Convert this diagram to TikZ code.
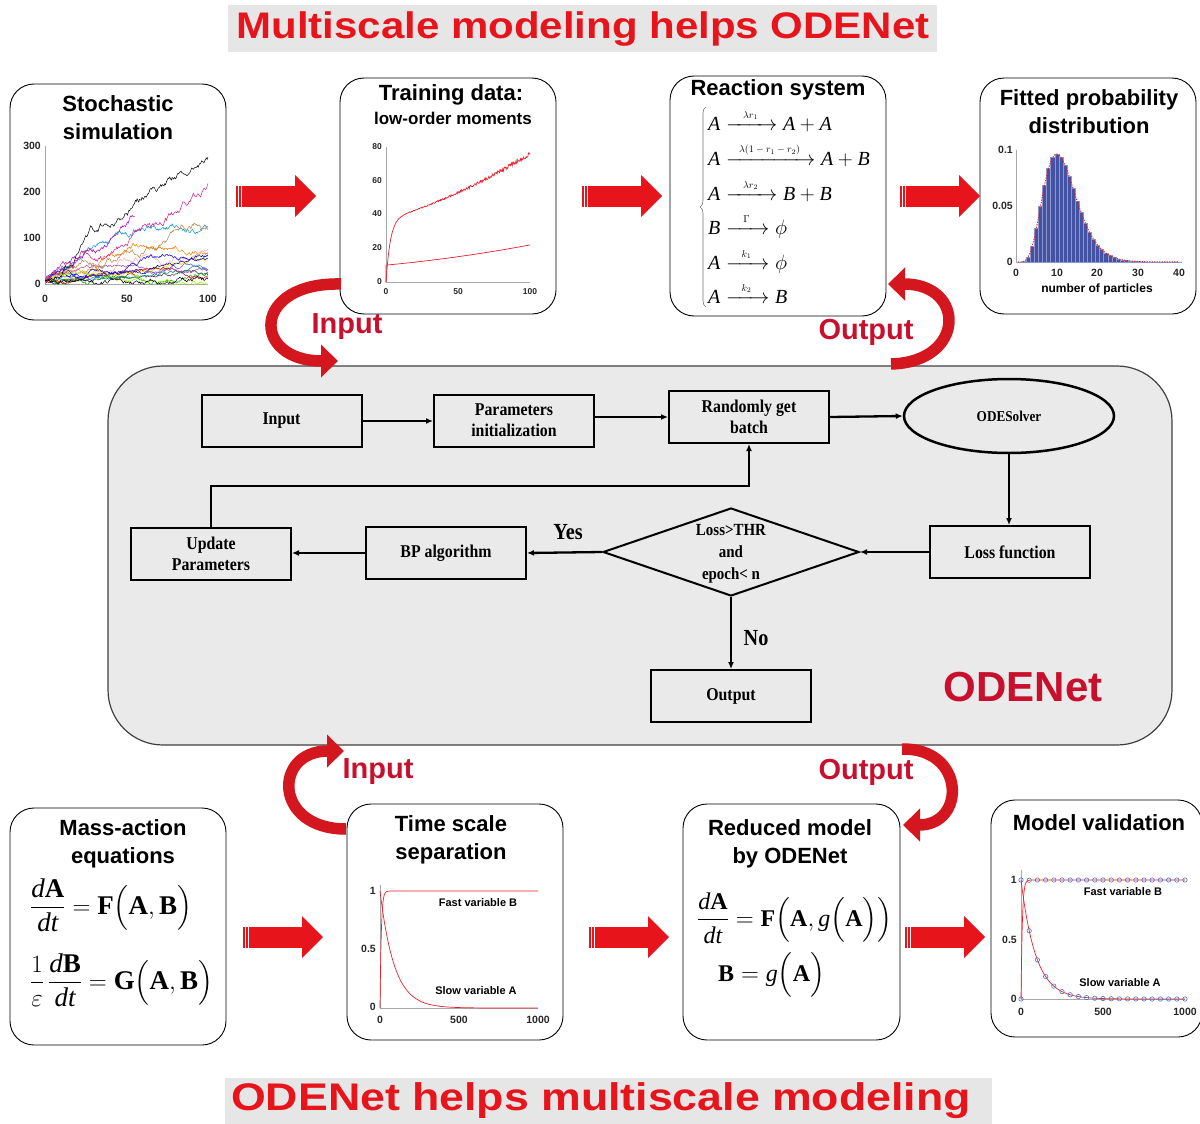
\documentclass[tikz,border=0pt]{standalone}
\usepackage{fontspec}
\usepackage{amsmath}
\usepackage{graphicx}
\setmainfont{Liberation Serif}
\newfontfamily\sansf{Liberation Sans}
\newfontfamily\flowf[FakeStretch=0.88]{Liberation Serif}
\usetikzlibrary{arrows.meta,shapes.geometric,calc,decorations.pathreplacing}
\definecolor{tred}{HTML}{E8141C}
\definecolor{titlebg}{HTML}{E6E6E6}
\definecolor{crim}{HTML}{C8102E}
\definecolor{panelgray}{HTML}{EAEAEA}
\definecolor{curvred}{HTML}{D4161F}
\definecolor{barblue}{HTML}{4352A3}
\definecolor{baredge}{HTML}{8E97CC}
\definecolor{mkblue}{HTML}{4F6FC8}
\definecolor{axgray}{HTML}{A8A8A8}
\definecolor{plotred}{HTML}{E8202A}
\newcommand\rwalk[5]{%
  \pgfmathsetseed{#1}%
  \xdef\rwy{8}%
  \xdef\rwp{(0,8)}%
  \foreach \i in {1,...,#5}{%
    \pgfmathparse{max(0,\rwy+#3+#4*rand)}%
    \xdef\rwy{\pgfmathresult}%
    \pgfmathparse{\i/2}%
    \xdef\rwx{\pgfmathresult}%
    \xdef\rwp{\rwp -- (\rwx,\rwy)}%
  }%
  \draw[#2, line width=0.5pt] \rwp;%
}
\newcommand\rxn[3]{\textit{#1}\xrightarrow{\makebox[#2]{\fontsize{10}{11}\selectfont$#3$}}}
\tikzset{
  panel/.style={draw=black, line width=0.9pt, rounded corners=24pt, inner sep=0pt},
  ptitle/.style={font=\sansf\bfseries\fontsize{22}{28}\selectfont, align=center, inner sep=0pt},
  tick/.style={font=\sansf\bfseries\fontsize{10.5}{12}\selectfont, inner sep=0pt, text=black!85},
  plotlab/.style={font=\sansf\bfseries\fontsize{11}{13}\selectfont, inner sep=0pt},
  flowbox/.style={draw=black, line width=2pt, minimum width=160pt, minimum height=52pt, inner sep=2pt, align=center, font=\flowf\bfseries\fontsize{18}{21}\selectfont},
  flowarr/.style={line width=2.3pt, -{Latex[length=7pt,width=6pt]}},
  curvarr/.style={draw=curvred, line width=11.5pt, -{Triangle[length=17pt,width=32pt]}},
  redlab/.style={font=\sansf\bfseries\fontsize{29}{32}\selectfont, text=crim, inner sep=0pt},
  axis/.style={draw=axgray, line width=0.6pt},
  eqn/.style={inner sep=0pt, anchor=west},
  rx/.style={inner sep=0pt, anchor=base west, font=\fontsize{20}{22}\selectfont},
  bigarrow/.pic={
    \fill[tred] (0,-10.5) rectangle (2,10.5);
    \fill[tred] (3.3,-10.5) rectangle (4.9,10.5);
    \fill[tred] (6.2,-10.5) rectangle (60,10.5);
    \fill[tred] (59,-21) -- (80,0) -- (59,21) -- cycle;
  }
}
\begin{document}
\begin{tikzpicture}[x=1pt,y=-1pt]
\useasboundingbox (0,0) rectangle (1200,1124);
% ---------- titles
\fill[titlebg] (228,5) rectangle (937,52);
\node[font=\sansf\bfseries\fontsize{37}{40}\selectfont, text=tred, inner sep=0pt] (ttop) at (583,29) {\scalebox{1.135}[1]{Multiscale modeling helps ODENet}};
\fill[titlebg] (225,1078) rectangle (992,1124);
\node[font=\sansf\bfseries\fontsize{38.5}{42}\selectfont, text=tred, inner sep=0pt] (tbot) at (601,1101) {\scalebox{1.16}[1]{ODENet helps multiscale modeling}};
% ---------- central panel
\node[draw=black!75, fill=panelgray, line width=1.2pt, rounded corners=55pt, minimum width=1064pt, minimum height=379pt, inner sep=0pt] (core) at (640,555.5) {};
% ---------- top panels
\node[panel, minimum width=216pt, minimum height=236pt] (p1) at (118,202) {};
\node[panel, minimum width=216pt, minimum height=236pt] (p2) at (448,196) {};
\node[panel, minimum width=216pt, minimum height=240pt] (p3) at (778,196) {};
\node[panel, minimum width=216pt, minimum height=236pt] (p4) at (1088,196) {};
\node[ptitle] (p1t) at (118,118) {Stochastic\\simulation};
\node[ptitle] (p2t) at (451,95) {Training data:};
\node[font=\sansf\bfseries\fontsize{17}{20}\selectfont, inner sep=0pt] (p2s) at (453,118) {low-order moments};
\node[ptitle] (p3t) at (778,90) {Reaction system};
\node[ptitle] (p4t) at (1089,111.5) {Fitted probability\\distribution};
% ---------- bottom panels
\node[panel, minimum width=216pt, minimum height=237pt] (p5) at (118,926.5) {};
\node[panel, minimum width=216pt, minimum height=236pt] (p6) at (455,922) {};
\node[panel, minimum width=217pt, minimum height=236pt] (p7) at (791.5,922) {};
\node[panel, minimum width=211pt, minimum height=237pt] (p8) at (1096.5,918.5) {};
\node[ptitle] (p5t) at (123,844) {Mass-action\\equations};
\node[ptitle] (p6t) at (451,840) {Time scale\\separation};
\node[ptitle] (p7t) at (790,844) {Reduced model\\by ODENet};
\node[ptitle] (p8t) at (1099,823) {Model validation};
% ---------- block arrows
\pic at (236,196) {bigarrow};
\pic at (582,196) {bigarrow};
\pic at (900,196) {bigarrow};
\pic at (243,937) {bigarrow};
\pic at (589,937) {bigarrow};
\pic at (905,937) {bigarrow};
% ---------- plot 1: stochastic simulation
\draw[axis] (45,146) -- (45,284) -- (208,284);
\begin{scope}[shift={(45,284)}]
\begin{scope}[x=1.63pt,y=0.46pt]
\clip (0,-3) rectangle (101,320);
\rwalk{31}{black!60!gray}{0.02}{2.6}{200}
\rwalk{32}{green!60!black}{0.08}{3.2}{200}
\rwalk{33}{blue!70}{0.03}{2.6}{200}
\rwalk{34}{pink!90!red}{0.12}{4}{200}
\rwalk{35}{orange}{0.28}{4}{200}
\rwalk{36}{yellow!85!orange}{0.3}{4}{200}
\rwalk{37}{cyan!80!blue}{0.36}{4.5}{200}
\rwalk{38}{red!80!black}{0.05}{2.6}{200}
\rwalk{39}{blue!60!black}{0.12}{3.2}{200}
\rwalk{40}{teal}{0.05}{2.6}{200}
\rwalk{41}{violet!70}{0.07}{2.6}{200}
\rwalk{42}{green!40!yellow}{0.15}{3.2}{200}
\rwalk{43}{blue}{0.1}{3.2}{200}
\rwalk{44}{black}{0.1}{3.8}{200}
\rwalk{45}{brown}{0.42}{5}{200}
\rwalk{46}{violet!60!magenta}{1.3}{4.5}{110}
\rwalk{47}{black}{1.3}{5.5}{200}
\rwalk{48}{magenta!75!violet}{0.95}{5.5}{200}
\end{scope}
\end{scope}
\node[tick, anchor=east] (s1y0) at (41,284) {0};
\node[tick, anchor=east] (s1y1) at (41,238) {100};
\node[tick, anchor=east] (s1y2) at (41,192) {200};
\node[tick, anchor=east] (s1y3) at (41,146) {300};
\node[tick] (s1x0) at (45,299) {0};
\node[tick] (s1x1) at (127,299) {50};
\node[tick] (s1x2) at (208,299) {100};
% ---------- plot 2: training data
\draw[axis] (386,147) -- (386,282) -- (530,282);
\begin{scope}[shift={(386,282)}]
\begin{scope}[x=1.44pt,y=1.6875pt]
\draw[plotred, line width=0.7pt] plot[domain=0:100, samples=260] (\x,{37*(1-exp(-\x/3))+0.25*\x+0.0014*\x*\x+1.3*rand*\x/100});
\draw[plotred, line width=0.7pt] (0,0) -- (0,10) -- plot[domain=0:100, samples=60] (\x,{10+0.08*\x+0.0004*\x*\x});
\end{scope}
\end{scope}
\foreach \v/\yy in {0/282,20/248,40/214,60/181,80/147}{
  \node[tick, anchor=east, font=\sansf\bfseries\fontsize{8.5}{10}\selectfont] at (382,\yy) {\v};
}
\node[tick, font=\sansf\bfseries\fontsize{8.5}{10}\selectfont] (s2x0) at (386,292) {0};
\node[tick, font=\sansf\bfseries\fontsize{8.5}{10}\selectfont] (s2x1) at (458,292) {50};
\node[tick, font=\sansf\bfseries\fontsize{8.5}{10}\selectfont] (s2x2) at (530,292) {100};
% ---------- reaction system
\draw[decorate, decoration={brace, amplitude=6pt}, draw=black!55, line width=0.6pt] (706,307) -- (706,107);
\node[rx] (r1) at (708,130) {$\rxn{A}{40pt}{\lambda r_1}\textit{A}+\textit{A}$};
\node[rx] (r2) at (708,165) {$\rxn{A}{78pt}{\lambda(1-r_1-r_2)}\textit{A}+\textit{B}$};
\node[rx] (r3) at (708,200) {$\rxn{A}{40pt}{\lambda r_2}\textit{B}+\textit{B}$};
\node[rx] (r4) at (708,234) {$\rxn{B}{32pt}{\Gamma}\phi$};
\node[rx] (r5) at (708,269) {$\rxn{A}{32pt}{k_1}\phi$};
\node[rx] (r6) at (708,303) {$\rxn{A}{32pt}{k_2}\textit{B}$};
% ---------- fitted distribution
\draw[axis] (1016,150) -- (1016,262) -- (1181,262);
\begin{scope}[shift={(1016,262)}]
\begin{scope}[x=4.075pt,y=1120pt]
\foreach \i in {1,...,40}{
  \pgfmathsetmacro\hh{exp(6*ln(\i)-0.6*\i-10.155)}
  \filldraw[fill=barblue, draw=baredge, line width=0.3pt] ({\i-0.5},0) rectangle ({\i+0.5},\hh);
}
\draw[plotred, line width=1pt, dash pattern=on 1.2pt off 1.3pt] plot[domain=0.5:40, samples=80] (\x,{exp(6*ln(\x)-0.6*\x-10.155)});
\end{scope}
\end{scope}
\node[tick, anchor=east] (s4y0) at (1013,262) {0};
\node[tick, anchor=east] (s4y1) at (1013,206) {0.05};
\node[tick, anchor=east] (s4y2) at (1013,150) {0.1};
\foreach \v/\xx in {0/1016,10/1057,20/1097,30/1138,40/1179}{
  \node[tick] at (\xx,273) {\v};
}
\node[plotlab, font=\sansf\bfseries\fontsize{12}{14}\selectfont] (s4lab) at (1097,289) {number of particles};
% ---------- central flowchart
\node[flowbox] (fin) at (281.5,421) {Input};
\node[flowbox] (fpar) at (514,420.5) {Parameters\\initialization};
\node[flowbox] (frand) at (749,417) {Randomly get\\batch};
\node[draw=black, line width=2.5pt, ellipse, minimum width=210pt, minimum height=74pt, inner sep=0pt, font=\flowf\bfseries\fontsize{15}{18}\selectfont] (fode) at (1009,416) {ODESolver};
\node[flowbox] (floss) at (1010,552) {Loss function};
\node[draw=black, line width=2pt, diamond, minimum width=256pt, minimum height=88pt, inner sep=0pt] (fdia) at (731,552) {};
\node[align=center, inner sep=0pt, font=\flowf\bfseries\fontsize{17}{22}\selectfont] (fdiat) at (731,554) {Loss>THR\\and\\epoch< n};
\node[flowbox] (fbp) at (446,553) {BP algorithm};
\node[flowbox] (fupd) at (211,554) {Update\\Parameters};
\node[flowbox] (fout) at (731,696) {Output};
\coordinate (fturn) at (749,486);
\draw[flowarr] (fin.east) -- (fin.east -| fpar.west);
\draw[flowarr] (fpar.east |- frand.west) -- (frand.west);
\draw[flowarr] (frand.east) -- (fode.west);
\draw[flowarr] (fode.south) -- (floss.north -| fode.south);
\draw[flowarr] (floss.west) -- (fdia.east);
\draw[flowarr] (fdia.west) -- (fbp.east);
\draw[flowarr] (fbp.west) -- (fupd.east |- fbp.west);
\draw[flowarr] (fupd.north) |- (fturn) -- (frand.south);
\draw[flowarr] (fdia.south) -- (fout.north);
\node[font=\flowf\bfseries\fontsize{23}{26}\selectfont, inner sep=0pt] (fyes) at (568,532) {Yes};
\node[font=\flowf\bfseries\fontsize{23}{26}\selectfont, inner sep=0pt] (fno) at (756,638) {No};
\node[font=\sansf\bfseries\fontsize{42}{46}\selectfont, text=crim, inner sep=0pt] (fodenet) at (1023,687) {ODENet};
% ---------- curved arrows
\coordinate (ca1s) at (341,284);
\coordinate (ca1e) at (338,361);
\draw[curvarr] (ca1s) .. controls (251,282) and (251,361) .. (ca1e);
\node[redlab] (la1) at (347,327) {Input};
\coordinate (ca2s) at (891,364);
\coordinate (ca2e) at (888,284);
\draw[curvarr] (ca2s) .. controls (966,362) and (966,284) .. (ca2e);
\node[redlab] (la2) at (866,332) {Output};
\coordinate (ca3s) at (346,829);
\coordinate (ca3e) at (344,751);
\draw[curvarr] (ca3s) .. controls (273,829) and (273,751) .. (ca3e);
\node[redlab] (la3) at (378,772) {Input};
\coordinate (ca4s) at (902,749);
\coordinate (ca4e) at (903,825);
\draw[curvarr] (ca4s) .. controls (966,748) and (966,825) .. (ca4e);
\node[redlab] (la4) at (866,772) {Output};
% ---------- mass-action equations
\node[eqn, font=\fontsize{27}{30}\selectfont] (eq1) at (30,905) {$\dfrac{\textit{d}\textbf{A}}{\textit{dt}}=\textbf{F}\Bigl(\textbf{A},\textbf{B}\Bigr)$};
\node[eqn, font=\fontsize{27}{30}\selectfont] (eq2) at (30,980) {$\dfrac{1}{\varepsilon}\,\dfrac{\textit{d}\textbf{B}}{\textit{dt}}=\textbf{G}\Bigl(\textbf{A},\textbf{B}\Bigr)$};
% ---------- time scale separation
\draw[axis] (380,885) -- (380,1008) -- (538,1008);
\begin{scope}[shift={(380,1008)}]
\begin{scope}[x=0.158pt,y=117pt]
\draw[plotred, line width=0.7pt] plot[domain=0:1000, samples=300] (\x,{1-exp(-\x/8)});
\draw[plotred, line width=0.7pt] plot[domain=0:1000, samples=300] (\x,{exp(-\x/90)});
\end{scope}
\end{scope}
\node[tick, anchor=east] (s6y0) at (376,1007) {0};
\node[tick, anchor=east] (s6y1) at (376,949) {0.5};
\node[tick, anchor=east] (s6y2) at (376,891) {1};
\node[tick] (s6x0) at (380,1020) {0};
\node[tick] (s6x1) at (459,1020) {500};
\node[tick] (s6x2) at (538,1020) {1000};
\node[plotlab] (s6b) at (478,903) {Fast variable B};
\node[plotlab] (s6a) at (476,991) {Slow variable A};
% ---------- reduced model
\node[eqn, font=\fontsize{24}{28}\selectfont] (eq3) at (697,918) {$\dfrac{\textit{d}\textbf{A}}{\textit{dt}}=\textbf{F}\Bigl(\textbf{A},\textit{g}\Bigl(\textbf{A}\Bigr)\Bigr)$};
\node[eqn, font=\fontsize{24}{28}\selectfont] (eq4) at (718,975) {$\textbf{B}=\textit{g}\Bigl(\textbf{A}\Bigr)$};
% ---------- model validation
\draw[axis] (1021,870) -- (1021,999) -- (1185,999);
\begin{scope}[shift={(1021,999)}]
\begin{scope}[x=0.164pt,y=119pt]
\draw[plotred, line width=0.7pt] plot[domain=0:1000, samples=300] (\x,{1-exp(-\x/8)});
\draw[plotred, line width=0.7pt] plot[domain=0:1000, samples=300] (\x,{exp(-\x/90)});
\foreach \t in {0,50,...,1000}{
  \draw[mkblue, line width=0.6pt] (\t,{exp(-\t/90)}) circle (2.2pt);
  \draw[mkblue, line width=0.6pt] (\t,{1-exp(-\t/8)}) circle (2.2pt);
}
\end{scope}
\end{scope}
\node[tick, anchor=east] (s8y0) at (1017,999) {0};
\node[tick, anchor=east] (s8y1) at (1017,940) {0.5};
\node[tick, anchor=east] (s8y2) at (1017,880) {1};
\node[tick] (s8x0) at (1021,1012) {0};
\node[tick] (s8x1) at (1103,1012) {500};
\node[tick] (s8x2) at (1185,1012) {1000};
\node[plotlab] (s8b) at (1123,892) {Fast variable B};
\node[plotlab] (s8a) at (1120,983) {Slow variable A};
\end{tikzpicture}
\end{document}
